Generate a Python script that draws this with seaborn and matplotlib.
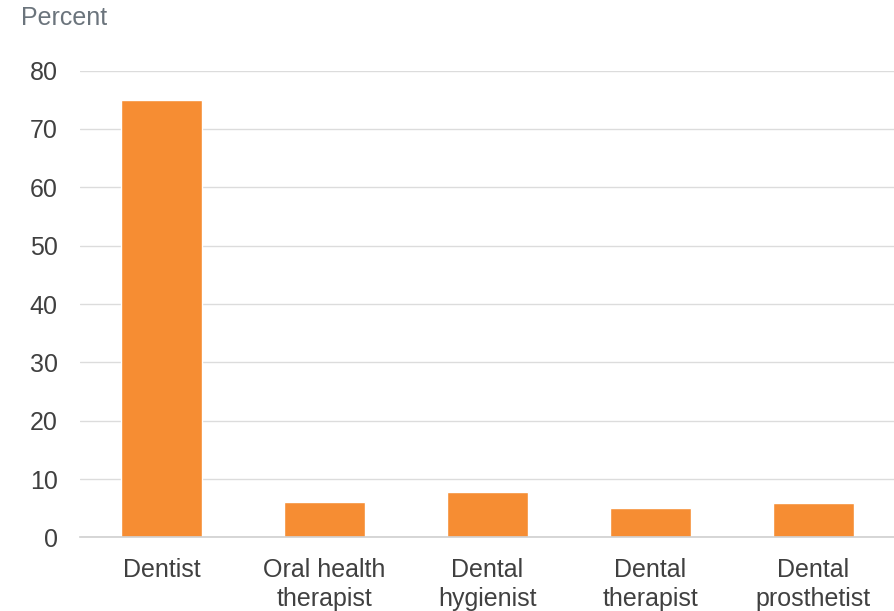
import matplotlib
matplotlib.use("Agg")
import matplotlib.pyplot as plt
import seaborn as sns
import pandas as pd

# values
occupations = ["Dentist", "Oral health\ntherapist", "Dental\nhygienist",
               "Dental\ntherapist", "Dental\nprosthetist"]
percent = [75.0, 6.1, 7.8, 5.0, 5.9]
y_ticks = [0, 10, 20, 30, 40, 50, 60, 70, 80]

df = pd.DataFrame({"occupation": occupations, "percent": percent})

sns.set_style("white")
plt.rcParams["font.family"] = ["Liberation Sans", "DejaVu Sans"]

fig = plt.figure(figsize=(8.95, 6.11), dpi=100)
ax = fig.add_axes([0.0894, 0.1203, 0.9106, 0.7643])

sns.barplot(data=df, x="occupation", y="percent", color="#F68D33",
            saturation=1, width=0.5, ax=ax)

ax.set_ylim(0, 80)
ax.set_xlim(-0.5, 4.5)
ax.set_yticks(y_ticks)
ax.yaxis.grid(True, color="#DCDCDC", linewidth=1)
ax.set_axisbelow(True)
for s in ["top", "right", "left"]:
    ax.spines[s].set_visible(False)
ax.spines["bottom"].set_color("#D0D0D0")
ax.spines["bottom"].set_linewidth(1.2)

ax.tick_params(axis="y", length=0, pad=16, labelsize=18, labelcolor="#404040")
ax.tick_params(axis="x", length=0, pad=15, labelsize=18, labelcolor="#404040")
for lab in ax.get_xticklabels():
    lab.set_linespacing(1.25)

ax.set_xlabel("")
ax.set_ylabel("")
fig.text(0.023, 0.97, "Percent", fontsize=18, color="#6B747C", va="center", ha="left")

fig.savefig("out.png", dpi=100)
